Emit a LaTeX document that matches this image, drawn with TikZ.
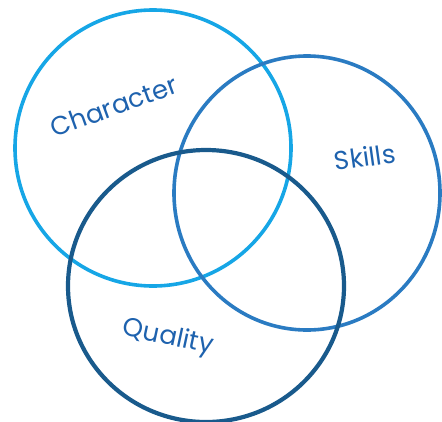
\documentclass[tikz,border=0pt]{standalone}
\usepackage{fontspec}
\setmainfont{Poppins}
\definecolor{charblue}{HTML}{16A6E6}
\definecolor{skillblue}{HTML}{2A7BC2}
\definecolor{qualblue}{HTML}{195A8C}
\definecolor{textblue}{HTML}{1E62AE}
\tikzset{
  ring/.style={draw, line width=3.6pt, fill=none},
  lbl/.style={text=textblue, font=\fontsize{26}{28}\selectfont, inner sep=0pt}
}
\begin{document}
\begin{tikzpicture}[x=1pt,y=-1pt]
\useasboundingbox (0,0) rectangle (442,421);
\draw[ring, draw=charblue] (153,148) ellipse [x radius=138, y radius=138] coordinate (c1);
\draw[ring, draw=skillblue] (307,193) ellipse [x radius=133, y radius=137] coordinate (c2);
\draw[ring, draw=qualblue, line width=4.2pt] (206,286) ellipse [x radius=138, y radius=136] coordinate (c3);
\node[lbl, rotate=20] (character) at (114,106) {Character};
\node[lbl, rotate=8] (skills) at (365,157) {Skills};
\node[lbl, rotate=-12] (quality) at (168,338) {Quality};
\end{tikzpicture}
\end{document}
